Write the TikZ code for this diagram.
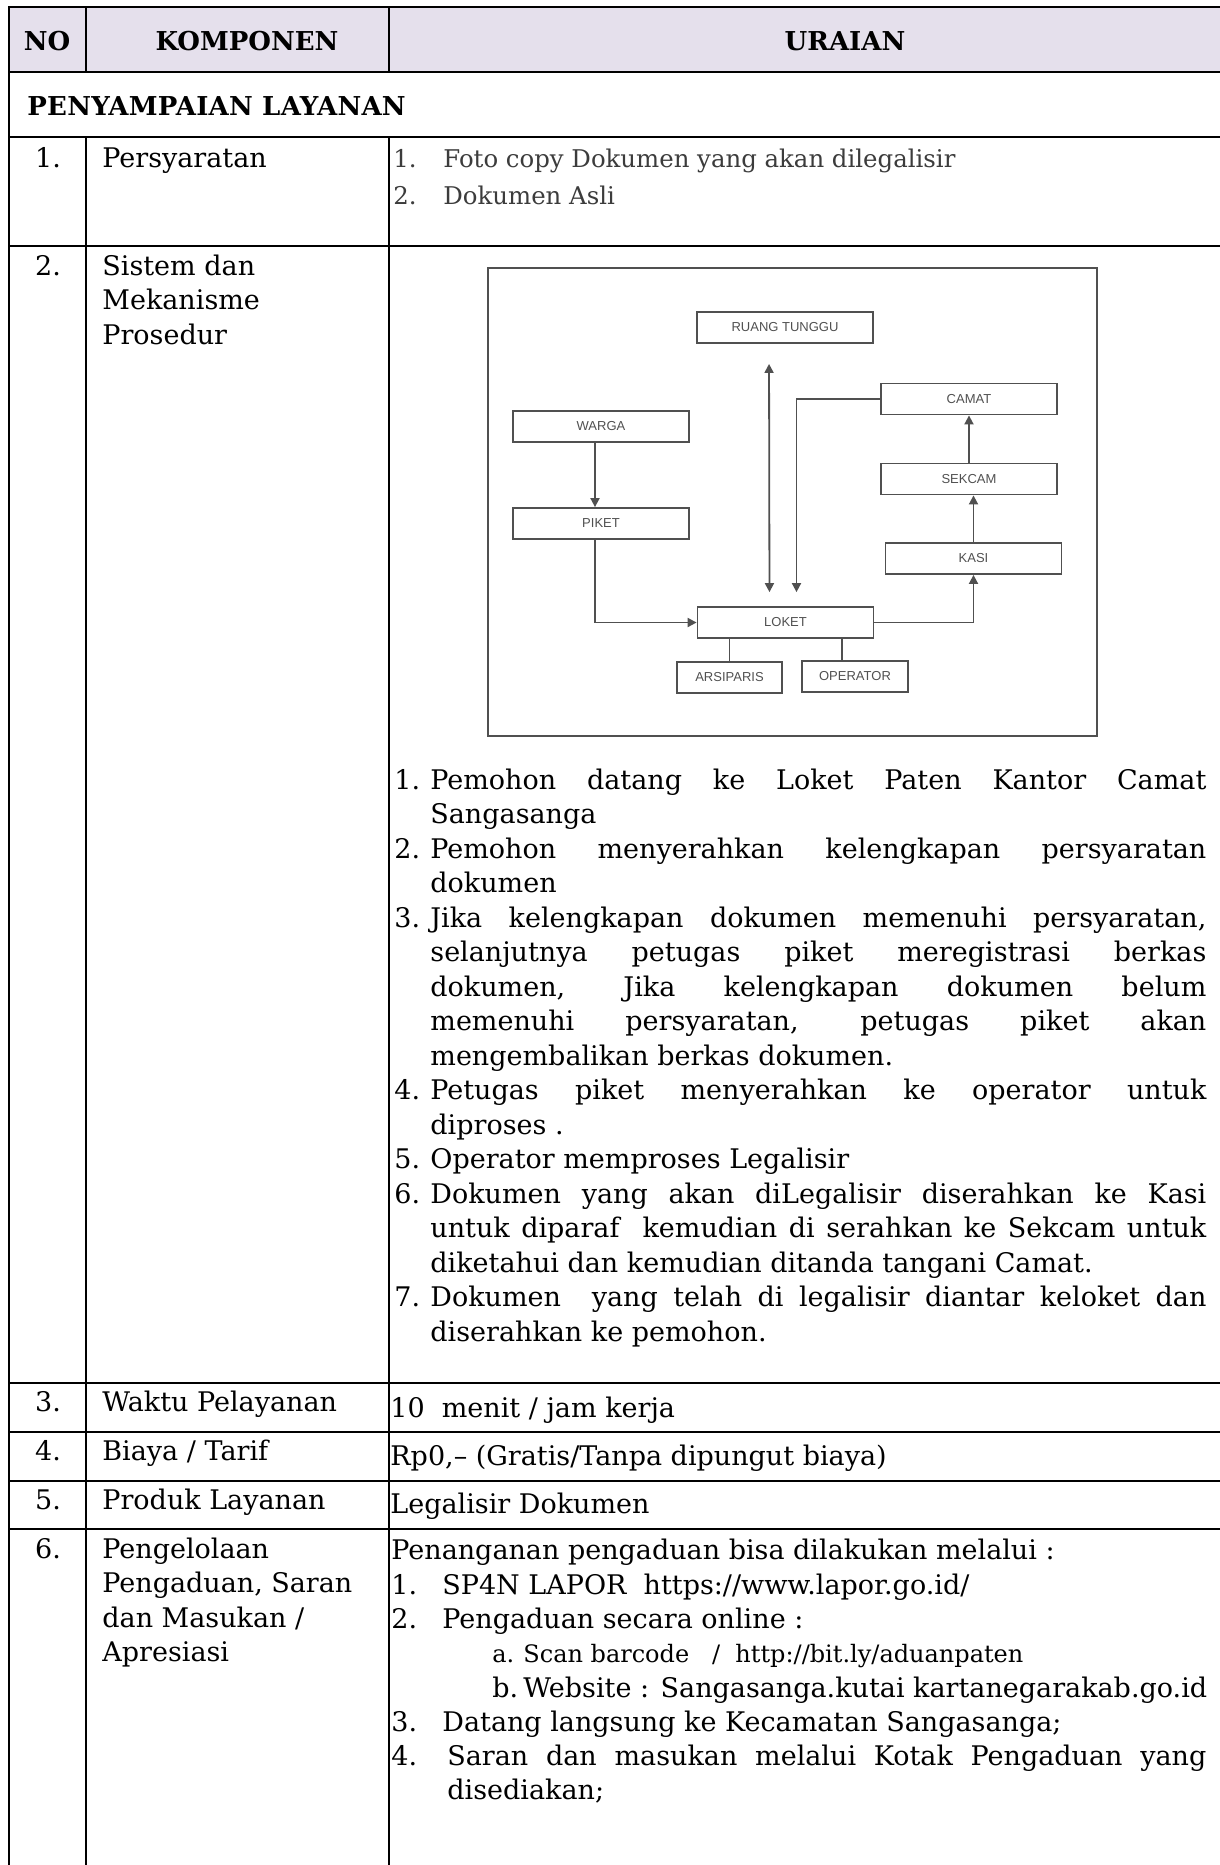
\documentclass[tikz,border=0pt]{standalone}
\usepackage{fontspec}
\setmainfont{DejaVu Serif}
\setsansfont{Liberation Sans}
\usetikzlibrary{arrows.meta}
\definecolor{headfill}{RGB}{229,224,236}
\definecolor{flowgray}{RGB}{80,80,80}
\definecolor{softtext}{RGB}{60,60,60}
\begin{document}
\begin{tikzpicture}[x=0.5pt,y=-0.5pt,
    tableline/.style={line width=1.1pt},
    cell/.style={anchor=base west,inner sep=0pt,font=\fontsize{13.5}{17.25}\selectfont},
    headcell/.style={anchor=base,inner sep=0pt,font=\bfseries\fontsize{13}{17.25}\selectfont},
    flowbox/.style={draw=flowgray,line width=0.9pt,minimum width=88pt,minimum height=15.5pt,inner sep=0pt,text=flowgray,font=\sffamily\fontsize{6.5}{7}\selectfont},
    flowline/.style={draw=flowgray,line width=0.9pt},
    flowarrow/.style={flowline,-{Triangle[length=4.5pt,width=4.5pt]}},
    flowboth/.style={flowline,{Triangle[length=4.5pt,width=4.5pt]}-{Triangle[length=4.5pt,width=4.5pt]}}]
    \useasboundingbox (0,0) rectangle (1220,1865);
    % table
    \fill[headfill] (9,7) rectangle (1220,72);
    \draw[tableline] (1220,7) -- (9,7) -- (9,1865);
    \foreach \y in {72,137,246,1383,1432,1481,1529}{
        \draw[tableline] (9,\y) -- (1220,\y);
    }
    \foreach \x in {86,389}{
        \draw[tableline] (\x,7) -- (\x,72);
        \draw[tableline] (\x,137) -- (\x,1865);
    }
    \node[headcell] (hno) at (47,50) {NO};
    \node[headcell] (hkomp) at (247,50) {KOMPONEN};
    \node[headcell] (hurai) at (845,50) {URAIAN};
    \node[headcell,anchor=base west] (section) at (27,115) {\addfontfeature{LetterSpace=1}PENYAMPAIAN LAYANAN};
    % kolom no dan komponen
    \foreach \n/\y in {1/167,2/275,3/1411,4/1460,5/1509,6/1558}{
        \node[cell,anchor=base] at (48,\y) {\n.};
    }
    \foreach \y/\t in {167/Persyaratan,1411/{Waktu Pelayanan},1460/{Biaya / Tarif},1509/{Produk Layanan}}{
        \node[cell] at (102,\y) {\t};
    }
    \node[cell] (sistem) at (102,275) {\parbox[t]{140pt}{\raggedright Sistem dan\\Mekanisme\\Prosedur}};
    \node[cell] (kelola) at (102,1558) {\parbox[t]{145pt}{\raggedright Pengelolaan\\Pengaduan, Saran\\dan Masukan /\\Apresiasi}};
    % persyaratan
    \node[cell,text=softtext,font=\fontsize{12.2}{17}\selectfont] at (393,167) {1.};
    \node[cell,text=softtext,font=\fontsize{12.2}{17}\selectfont] (syarat1) at (443,167) {Foto copy Dokumen yang akan dilegalisir};
    \node[cell,text=softtext,font=\fontsize{12.2}{17}\selectfont] at (393,204) {2.};
    \node[cell,text=softtext,font=\fontsize{12.2}{17}\selectfont] (syarat2) at (443,204) {Dokumen Asli};
    % bagan alur
    \draw[flowline] (488,268) rectangle (1097,736);
    \node[flowbox] (ruang) at (785,327.5) {RUANG TUNGGU};
    \node[flowbox] (warga) at (601,426.5) {WARGA};
    \node[flowbox] (piket) at (601,523.5) {PIKET};
    \node[flowbox] (camat) at (969,399) {CAMAT};
    \node[flowbox] (sekcam) at (969,479) {SEKCAM};
    \node[flowbox] (kasi) at (973.5,558.5) {KASI};
    \node[flowbox] (loket) at (785.5,622.5) {LOKET};
    \node[flowbox,minimum width=52.5pt] (arsip) at (729.5,677.5) {ARSIPARIS};
    \node[flowbox,minimum width=53pt] (operator) at (855,676.5) {OPERATOR};
    \draw[flowarrow] ([xshift=-3pt]warga.south) -- ([xshift=-3pt]piket.north);
    \draw[flowarrow] ([xshift=-3pt]piket.south) |- (loket.west);
    \draw[flowboth,shorten <=10pt,shorten >=7pt] ([xshift=-8pt]ruang.south) -- ([xshift=-8pt]loket.north);
    \draw[flowarrow,shorten >=7pt] (camat.west) -| ([xshift=5.5pt]loket.north);
    \draw[flowarrow] (loket.east) -| (kasi.south);
    \draw[flowarrow] (kasi.north) -- (kasi.north |- sekcam.south);
    \draw[flowarrow] (sekcam) -- (camat);
    \draw[flowline] (arsip.north) -- (arsip.north |- loket.south);
    \draw[flowline] ([xshift=-6.5pt]operator.north) -- ([xshift=-6.5pt]operator.north |- loket.south);
    % prosedur
    \foreach \n/\y in {1/789,2/858,3/927,4/1099.5,5/1168.5,6/1203,7/1306.5}{
        \node[cell] at (394,\y) {\n.};
    }
    \node[cell] (step1) at (430,789) {\parbox[t]{388pt}{\tolerance=10000 Pemohon datang ke Loket Paten Kantor Camat\linebreak Sangasanga}};
    \node[cell] (step2) at (430,858) {\parbox[t]{388pt}{\tolerance=10000 Pemohon menyerahkan kelengkapan persyaratan\linebreak dokumen}};
    \node[cell] (step3) at (430,927) {\parbox[t]{388pt}{\tolerance=10000 Jika kelengkapan dokumen memenuhi persyaratan,\linebreak selanjutnya petugas piket meregistrasi berkas\linebreak dokumen, Jika kelengkapan dokumen belum\linebreak memenuhi persyaratan, petugas piket akan\linebreak mengembalikan berkas dokumen.}};
    \node[cell] (step4) at (430,1099.5) {\parbox[t]{388pt}{\tolerance=10000 Petugas piket menyerahkan ke operator untuk\linebreak diproses .}};
    \node[cell] (step5) at (430,1168.5) {Operator memproses Legalisir};
    \node[cell] (step6) at (430,1203) {\parbox[t]{388pt}{\tolerance=10000 Dokumen yang akan diLegalisir diserahkan ke Kasi\linebreak untuk diparaf\ \ kemudian di serahkan ke Sekcam untuk\linebreak diketahui dan kemudian ditanda tangani Camat.}};
    \node[cell] (step7) at (430,1306.5) {\parbox[t]{388pt}{\tolerance=10000 Dokumen\ \ yang telah di legalisir diantar keloket dan\linebreak diserahkan ke pemohon.}};
    % waktu, biaya, produk
    \node[cell] (waktu) at (390,1417) {10\ \ menit / jam kerja};
    \node[cell] (biaya) at (390,1465) {Rp0,– (Gratis/Tanpa dipungut biaya)};
    \node[cell] (produk) at (390,1513) {Legalisir Dokumen};
    % pengaduan
    \node[cell] (aduan) at (391,1559) {Penanganan pengaduan bisa dilakukan melalui :};
    \foreach \n/\x/\y in {1./391/1594,2./391/1628,b./492/1697,3./391/1731,4./391/1765}{
        \node[cell] at (\x,\y) {\n};
    }
    \node[cell,font=\fontsize{12}{14}\selectfont] at (492,1662) {a.};
    \node[cell] (lapor) at (442,1594) {SP4N LAPOR\ \ https://www.lapor.go.id/};
    \node[cell] (online) at (442,1628) {Pengaduan secara online :};
    \node[cell,font=\fontsize{12}{14}\selectfont] (scan) at (523,1662) {Scan barcode\ \ \ /\ \ http://bit.ly/aduanpaten};
    \node[cell] (web) at (523,1697) {Website : Sangasanga.kutai kartanegarakab.go.id};
    \node[cell] (datang) at (442,1731) {Datang langsung ke Kecamatan Sangasanga;};
    \node[cell] (kotak) at (447,1765) {\parbox[t]{379.5pt}{\tolerance=10000 Saran dan masukan melalui Kotak Pengaduan yang\linebreak disediakan;}};
\end{tikzpicture}
\end{document}
